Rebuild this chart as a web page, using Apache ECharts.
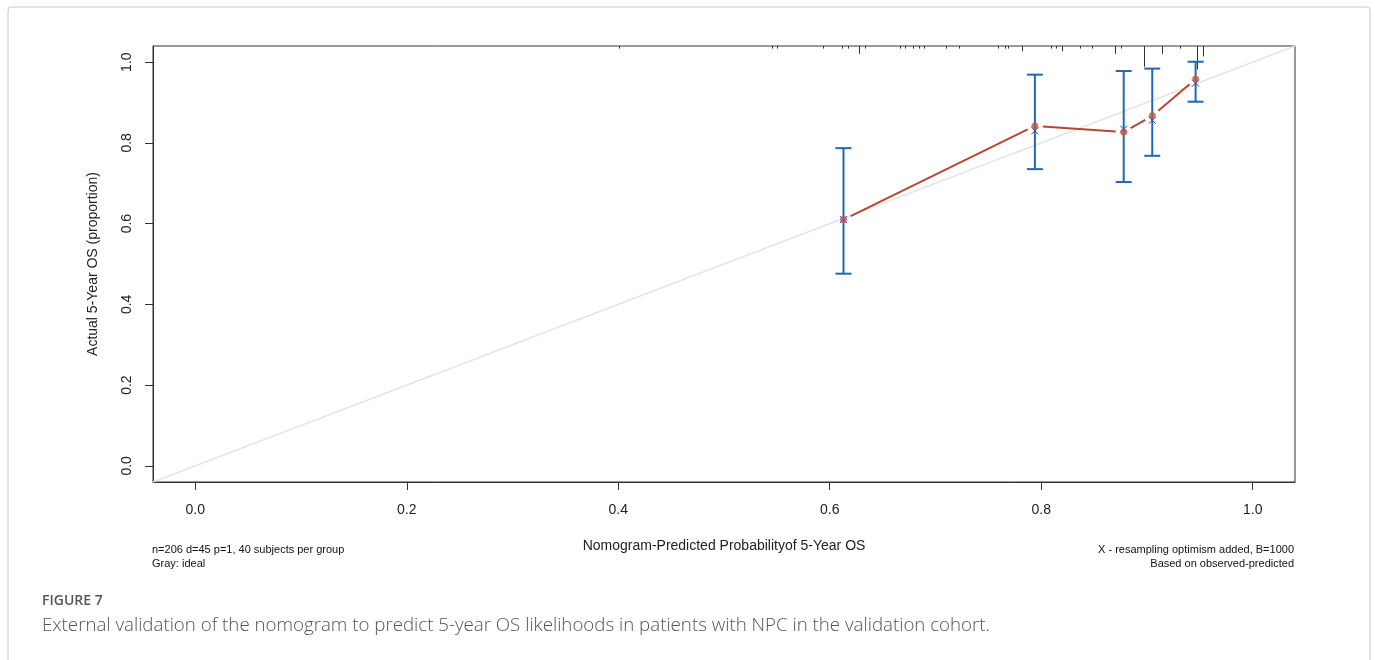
<!DOCTYPE html>
<html>
<head>
<meta charset="utf-8">
<script src="https://cdn.jsdelivr.net/npm/echarts@6/dist/echarts.min.js"></script>
<style>
html,body{margin:0;padding:0;background:#fff;}
#chart{width:1375px;height:660px;}
</style>
</head>
<body>
<div id="chart"></div>
<script>
// ---- data ----
const predicted = [0.613, 0.794, 0.878, 0.905, 0.946];
const observed  = [0.610, 0.842, 0.827, 0.867, 0.958];
const corrected = [0.610, 0.830, 0.834, 0.856, 0.948];
const ciLower   = [0.476, 0.735, 0.703, 0.768, 0.902];
const ciUpper   = [0.787, 0.969, 0.978, 0.984, 1.001];
const rugX      = [0.401, 0.545, 0.550, 0.594, 0.612, 0.617, 0.628, 0.633, 0.666, 0.671, 0.679, 0.684, 0.689, 0.710, 0.722, 0.759, 0.766, 0.769, 0.782, 0.809, 0.814, 0.820, 0.837, 0.848, 0.870, 0.875, 0.897, 0.914, 0.931, 0.947, 0.953];
const rugCount  = [1, 1, 1, 1, 1, 1, 3, 1, 1, 1, 1, 1, 1, 1, 1, 1, 1, 1, 2, 1, 1, 2, 1, 1, 3, 1, 8, 3, 1, 9, 4];
const idealLine = [[-0.04, -0.04], [1.04, 1.04]];
const tickValues = [0, 0.2, 0.4, 0.6, 0.8, 1.0];

const FONT = "'Liberation Sans', Arial, sans-serif";
const BLUE = '#1f68b3';
const RED = '#b84632';

const chart = echarts.init(document.getElementById('chart'), null, {renderer: 'canvas'});

const errData = predicted.map((x, i) => [x, ciLower[i], ciUpper[i]]);
const segData = predicted.slice(0, -1).map((x, i) => [x, observed[i], predicted[i + 1], observed[i + 1]]);
const corrData = predicted.map((x, i) => [x, corrected[i]]);
const obsData = predicted.map((x, i) => [x, observed[i]]);
const rugData = rugX.map((x, i) => [x, rugCount[i]]);

const axisCommon = {
  type: 'value', min: -0.04, max: 1.04,
  splitLine: {show: false},
  axisLine: {show: true, onZero: false, lineStyle: {color: '#333', width: 1}},
  axisTick: {show: true, inside: false, length: 8, lineStyle: {color: '#333'}, customValues: tickValues},
  axisLabel: {show: true, color: '#222', fontSize: 14, fontFamily: FONT, margin: 21,
    customValues: tickValues, formatter: v => Number(v).toFixed(1)},
  nameTextStyle: {fontFamily: FONT, fontSize: 14, color: '#222'}
};

chart.setOption({
  animation: false,
  backgroundColor: '#fff',
  grid: {left: 153, right: 80, top: 46, bottom: 178, show: true, borderColor: '#333', borderWidth: 1, backgroundColor: 'transparent'},
  xAxis: Object.assign({}, axisCommon, {
    name: 'Nomogram-Predicted Probabilityof 5-Year OS', nameLocation: 'middle', nameGap: 57
  }),
  yAxis: Object.assign({}, axisCommon, {
    axisLabel: Object.assign({}, axisCommon.axisLabel, {rotate: 90, margin: 19}),
    name: 'Actual 5-Year OS (proportion)', nameLocation: 'middle', nameGap: 53, nameRotate: 90
  }),
  series: [
    {
      type: 'line', data: idealLine, showSymbol: false, symbol: 'none',
      lineStyle: {color: '#e4e4e4', width: 1.5}, z: 1, silent: true
    },
    {
      type: 'custom', data: rugData, z: 2, silent: true,
      renderItem: function (params, api) {
        const p = api.coord([api.value(0), 0]);
        const top = params.coordSys.y;
        const len = api.value(1) * 2.6;
        return {type: 'line', shape: {x1: Math.round(p[0]) + 0.5, y1: top, x2: Math.round(p[0]) + 0.5, y2: top + len},
          style: {stroke: '#333', lineWidth: 1}};
      }
    },
    {
      type: 'custom', data: errData, z: 3, silent: true,
      renderItem: function (params, api) {
        const lo = api.coord([api.value(0), api.value(1)]);
        const hi = api.coord([api.value(0), api.value(2)]);
        const w = 8;
        const st = {stroke: BLUE, lineWidth: 2};
        return {type: 'group', children: [
          {type: 'line', shape: {x1: lo[0], y1: lo[1], x2: hi[0], y2: hi[1]}, style: st},
          {type: 'line', shape: {x1: lo[0] - w, y1: lo[1], x2: lo[0] + w, y2: lo[1]}, style: st},
          {type: 'line', shape: {x1: hi[0] - w, y1: hi[1], x2: hi[0] + w, y2: hi[1]}, style: st}
        ]};
      }
    },
    {
      type: 'custom', data: segData, z: 4, silent: true,
      renderItem: function (params, api) {
        const a = api.coord([api.value(0), api.value(1)]);
        const b = api.coord([api.value(2), api.value(3)]);
        const dx = b[0] - a[0], dy = b[1] - a[1];
        const L = Math.sqrt(dx * dx + dy * dy);
        const gap = 8;
        if (L <= 2 * gap) return null;
        const ux = dx / L, uy = dy / L;
        return {type: 'line', shape: {x1: a[0] + ux * gap, y1: a[1] + uy * gap, x2: b[0] - ux * gap, y2: b[1] - uy * gap},
          style: {stroke: RED, lineWidth: 2}};
      }
    },
    {
      type: 'custom', data: corrData, z: 5, silent: true,
      renderItem: function (params, api) {
        const p = api.coord([api.value(0), api.value(1)]);
        const s = 3.5;
        const st = {stroke: '#2a44c8', lineWidth: 1};
        return {type: 'group', children: [
          {type: 'line', shape: {x1: p[0] - s, y1: p[1] - s, x2: p[0] + s, y2: p[1] + s}, style: st},
          {type: 'line', shape: {x1: p[0] - s, y1: p[1] + s, x2: p[0] + s, y2: p[1] - s}, style: st}
        ]};
      }
    },
    {
      type: 'scatter', data: obsData, symbol: 'circle', symbolSize: 7, z: 6, silent: true,
      itemStyle: {color: '#c4543f'}
    }
  ],
  graphic: [
    {type: 'rect', shape: {x: 8, y: 7, width: 1362, height: 700, r: 3}, style: {fill: 'none', stroke: '#c8c8c8', lineWidth: 1}, z: 0, silent: true},
    {type: 'text', left: 152, top: 544, style: {text: 'n=206 d=45 p=1, 40 subjects per group', font: '11px ' + FONT, fill: '#111'}},
    {type: 'text', left: 152, top: 558, style: {text: 'Gray: ideal', font: '11px ' + FONT, fill: '#111'}},
    {type: 'text', right: 81, top: 544, style: {text: 'X - resampling optimism added, B=1000', font: '11px ' + FONT, fill: '#111'}},
    {type: 'text', right: 81, top: 558, style: {text: 'Based on observed-predicted', font: '11px ' + FONT, fill: '#111'}},
    {type: 'text', left: 42, top: 594, style: {text: 'FIGURE 7', font: '600 14px "Open Sans", sans-serif', fill: '#555'}},
    {type: 'text', left: 42, top: 616, style: {text: 'External validation of the nomogram to predict 5-year OS likelihoods in patients with NPC in the validation cohort.', font: '300 18.7px "Open Sans", sans-serif', fill: '#555'}}
  ]
});
</script>
</body>
</html>
